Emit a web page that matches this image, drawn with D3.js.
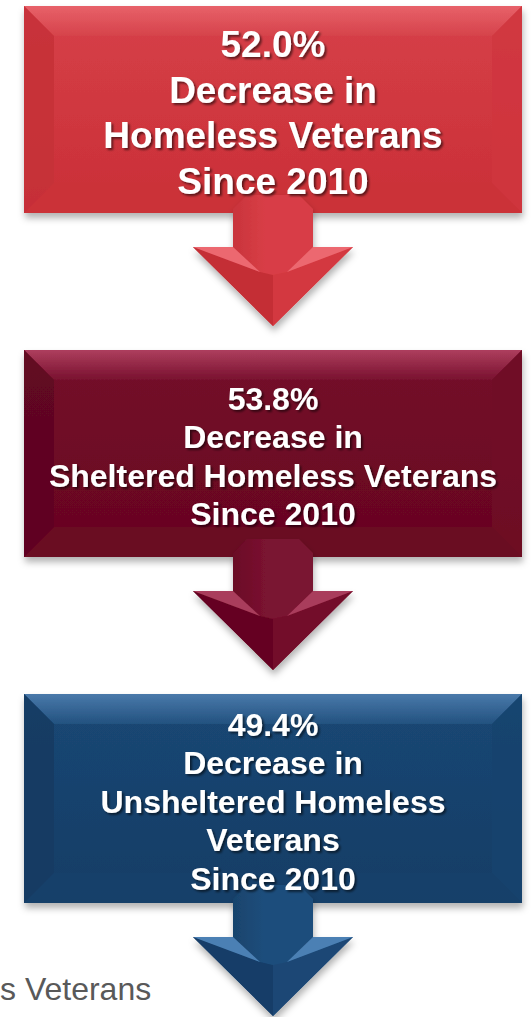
<!DOCTYPE html>
<html>
<head>
<meta charset="utf-8">
<script src="https://cdn.jsdelivr.net/npm/d3@7"></script>
<style>
  html, body { margin: 0; padding: 0; background: #fff; }
  svg { display: block; }
</style>
</head>
<body>
<svg></svg>
<script>
// values

var percents = ['52.0%', '53.8%', '49.4%']
var subjects = [['Homeless Veterans'], ['Sheltered Homeless Veterans'], ['Unsheltered Homeless', 'Veterans']]
var middleLine = 'Decrease in'
var sinceLine = 'Since 2010'
var backText = 's Veterans'

// styles, one per panel
var themes = [
  { face: ['#D53F47', '#CB3038'], top: ['#EC6A72', '#D6444C'], left: '#C42F37', right: '#CF363E', bottom: '#CA3139',
    stem: ['#B5272F', '#D83E46'], hi: '#EC6870', headL: '#C42E36', headR: '#D3383F', fs: 37, lh: 45.5 },
  { face: ['#730B29', '#690521'], top: ['#BC4C6B', '#7A1230'], left: '#5E0620', right: '#6F0A26', bottom: '#6A0723',
    stem: ['#57041B', '#7A1230'], hi: '#A93C5B', headL: '#650620', headR: '#730C29', fs: 32, lh: 38.5 },
  { face: ['#1A4673', '#143E67'], top: ['#5586B8', '#255583'], left: '#123961', right: '#18436E', bottom: '#16406A',
    stem: ['#103659', '#1F4E7C'], hi: '#4C80B4', headL: '#153D68', headR: '#1B4775', fs: 32, lh: 38.5 }
]

var w = 532
var h = 1017

var svg = d3.select('svg')
    .attr('width', w)
    .attr('height', h)

var defs = svg.append('defs')

var shadow = defs.append('filter').attr('id', 'shadow')
    .attr('x', '-10%').attr('y', '-10%').attr('width', '120%').attr('height', '130%')
shadow.append('feDropShadow')
    .attr('dx', 1).attr('dy', 5).attr('stdDeviation', 3.5)
    .attr('flood-color', '#000').attr('flood-opacity', 0.3)

var tshadow = defs.append('filter').attr('id', 'tshadow')
    .attr('x', '-10%').attr('y', '-20%').attr('width', '120%').attr('height', '150%')
tshadow.append('feDropShadow')
    .attr('dx', 2).attr('dy', 2).attr('stdDeviation', 1.2)
    .attr('flood-color', '#000').attr('flood-opacity', 0.55)

themes.forEach(function (t, i) {
  var g1 = defs.append('linearGradient').attr('id', 'face' + i)
      .attr('x1', 0).attr('y1', 0).attr('x2', 0).attr('y2', 1)
  g1.append('stop').attr('offset', 0).attr('stop-color', t.face[0])
  g1.append('stop').attr('offset', 1).attr('stop-color', t.face[1])

  var g2 = defs.append('linearGradient').attr('id', 'top' + i)
      .attr('x1', 0).attr('y1', 0).attr('x2', 0).attr('y2', 1)
  g2.append('stop').attr('offset', 0).attr('stop-color', t.top[0])
  g2.append('stop').attr('offset', 1).attr('stop-color', t.top[1])

  var g3 = defs.append('linearGradient').attr('id', 'stem' + i)
      .attr('x1', 0).attr('y1', 0).attr('x2', 1).attr('y2', 0)
  g3.append('stop').attr('offset', 0).attr('stop-color', t.stem[0])
  g3.append('stop').attr('offset', 0.45).attr('stop-color', t.stem[1])
  g3.append('stop').attr('offset', 1).attr('stop-color', t.stem[1])
})

// layout
var panelTop = d3.scaleLinear().domain([0, 1]).range([6, 350])
var x0 = 24
var x1 = 522
var boxH = 207
var bevel = 30
var cx = 273

var line = d3.line()

// grey text from the slide behind the last arrow
svg.append('text')
  .text(backText)
  .attr('x', 0)
  .attr('y', 1000)
  .style('font-family', 'Liberation Sans, Arial, sans-serif')
  .style('font-size', '32px')
  .style('fill', '#595959')

var panels = svg.selectAll('g.panel')
    .data(percents)
  .enter().append('g')
    .attr('class', 'panel')

panels.each(function (pct, i) {
  var t = themes[i]
  var g = d3.select(this)
  var y0 = panelTop(i)
  var y1 = y0 + boxH + (i === 2 ? 2 : 0)

  // box with bevel
  var box = g.append('g').attr('filter', 'url(#shadow)')
  box.append('rect')
    .attr('x', x0).attr('y', y0)
    .attr('width', x1 - x0).attr('height', y1 - y0)
    .attr('fill', 'url(#face' + i + ')')

  var ix0 = x0 + bevel
  var ix1 = x1 - bevel
  var iy0 = y0 + bevel
  var iy1 = y1 - bevel

  var facets = [
    { pts: [[x0, y0], [x1, y0], [ix1, iy0], [ix0, iy0]], fill: 'url(#top' + i + ')' },
    { pts: [[x0, y0], [ix0, iy0], [ix0, iy1], [x0, y1]], fill: t.left },
    { pts: [[x1, y0], [x1, y1], [ix1, iy1], [ix1, iy0]], fill: t.right },
    { pts: [[x0, y1], [ix0, iy1], [ix1, iy1], [x1, y1]], fill: t.bottom }
  ]
  box.selectAll('path.facet')
    .data(facets)
  .enter().append('path')
    .attr('class', 'facet')
    .attr('d', function (d) { return line(d.pts) + 'Z' })
    .attr('fill', function (d) { return d.fill })
    .attr('opacity', 0.8)
  box.append('rect')
    .attr('x', ix0).attr('y', iy0)
    .attr('width', ix1 - ix0).attr('height', iy1 - iy0)
    .attr('fill', 'url(#face' + i + ')')
    .attr('opacity', 0.6)

  // arrow under the box
  var sTop = y1 - 18
  var hTop = y1 + 34
  var tip = hTop + 79
  var sw = 40
  var hw = 80
  var ch = 14

  var arrow = g.append('g').attr('filter', 'url(#shadow)')
  var outline = [[cx - sw, sTop + ch], [cx - sw + ch, sTop], [cx + sw - ch, sTop], [cx + sw, sTop + ch],
    [cx + sw, hTop], [cx + hw, hTop], [cx, tip], [cx - hw, hTop], [cx - sw, hTop]]
  arrow.append('path')
    .attr('d', line(outline) + 'Z')
    .attr('fill', 'url(#stem' + i + ')')

  var inL = [cx - 13, hTop + 25]
  var inR = [cx + 14, hTop + 25]
  var inC = [cx, hTop + 28]
  var headParts = [
    { pts: [[cx - hw, hTop], inL, inC, [cx, tip]], fill: t.headL },
    { pts: [[cx + hw, hTop], inR, inC, [cx, tip]], fill: t.headR },
    { pts: [[cx - hw, hTop], [cx - sw, hTop], inL], fill: t.hi },
    { pts: [[cx + sw, hTop], [cx + hw, hTop], inR], fill: t.hi }
  ]
  arrow.selectAll('path.head')
    .data(headParts)
  .enter().append('path')
    .attr('class', 'head')
    .attr('d', function (d) { return line(d.pts) + 'Z' })
    .attr('fill', function (d) { return d.fill })

  // text
  var lines = [pct, middleLine].concat(subjects[i]).concat([sinceLine])
  var cy = (y0 + y1) / 2
  var n = lines.length
  g.append('g')
    .attr('filter', 'url(#tshadow)')
    .selectAll('text')
    .data(lines)
  .enter().append('text')
    .text(function (d) { return d })
    .attr('x', cx)
    .attr('y', function (d, k) { return cy + (k - (n - 1) / 2) * t.lh + 0.35 * t.fs + 3 })
    .attr('text-anchor', 'middle')
    .style('font-family', 'Liberation Sans, Arial, sans-serif')
    .style('font-weight', 'bold')
    .style('font-size', t.fs + 'px')
    .style('fill', '#fff')
})
</script>
</body>
</html>
